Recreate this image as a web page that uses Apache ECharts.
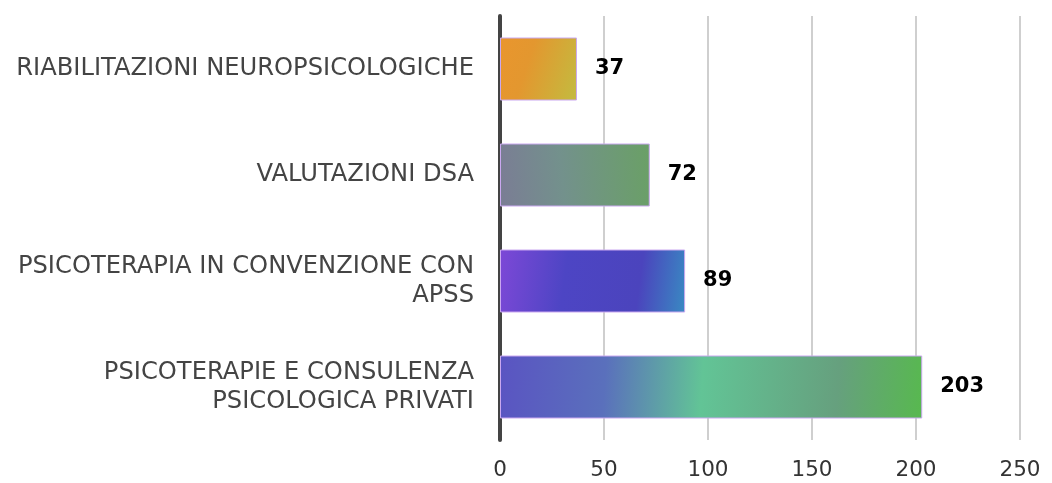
<!DOCTYPE html>
<html>
<head>
<meta charset="utf-8">
<script src="https://cdn.jsdelivr.net/npm/echarts@6/dist/echarts.min.js"></script>
<style>
html,body{margin:0;padding:0;background:#fff;}
#c{width:1052px;height:483px;}
</style>
</head>
<body>
<div id="c"></div>
<script>
const categories = [
  "RIABILITAZIONI NEUROPSICOLOGICHE",
  "VALUTAZIONI DSA",
  "PSICOTERAPIA IN CONVENZIONE CON\nAPSS",
  "PSICOTERAPIE E CONSULENZA\nPSICOLOGICA PRIVATI"
];
const values = [37, 72, 89, 203];
const xTicks = [0, 50, 100, 150, 200, 250];

function grad(x, y, x2, y2, stops) {
  return new echarts.graphic.LinearGradient(x, y, x2, y2,
    stops.map(s => ({offset: s[0], color: s[1]})));
}
const fills = [
  grad(0, 0.3, 1, 0.7, [[0, '#e8962e'], [0.35, '#e3972f'], [1, '#c6b83e']]),
  grad(0, 0.2, 1, 0, [[0, '#7a7e94'], [0.4, '#73918c'], [1, '#6aa066']]),
  grad(0, 0.3, 1, 0.7, [[0, '#7b48d6'], [0.35, '#4d45c4'], [0.75, '#4b44bd'], [1, '#3a86c2']]),
  grad(0, 0.1, 1, 0.6, [[0, '#5a54c2'], [0.25, '#5a70bc'], [0.48, '#62c496'], [0.8, '#66a07e'], [1, '#58b850']])
];

const chart = echarts.init(document.getElementById('c'));
chart.setOption({
  animation: false,
  grid: {left: 500, right: 32, top: 16, bottom: 43, containLabel: false},
  xAxis: {
    type: 'value', min: 0, max: 250, interval: 50,
    axisLine: {show: false}, axisTick: {show: false},
    splitLine: {show: true, lineStyle: {color: '#cfcfcf', width: 2}},
    axisLabel: {
      color: '#333', fontSize: 21.5, fontFamily: 'DejaVu Sans', margin: 19,
      formatter: v => xTicks.includes(v) ? String(v) : ''
    }
  },
  yAxis: {
    type: 'category', data: categories, inverse: true,
    axisLine: {show: true, lineStyle: {color: '#444', width: 4}},
    axisTick: {show: false},
    axisLabel: {
      color: '#444', fontSize: 24.2, fontFamily: 'DejaVu Sans', margin: 26,
      lineHeight: 29, align: 'right'
    }
  },
  series: [{
    type: 'bar',
    barWidth: 63,
    data: values.map((v, i) => ({
      value: v,
      itemStyle: {color: fills[i], borderColor: '#caa8f0', borderWidth: 1}
    })),
    label: {
      show: true, position: 'right', distance: 18,
      color: '#000', fontWeight: 'bold', fontSize: 21, fontFamily: 'DejaVu Sans'
    }
  }]
});
</script>
</body>
</html>
